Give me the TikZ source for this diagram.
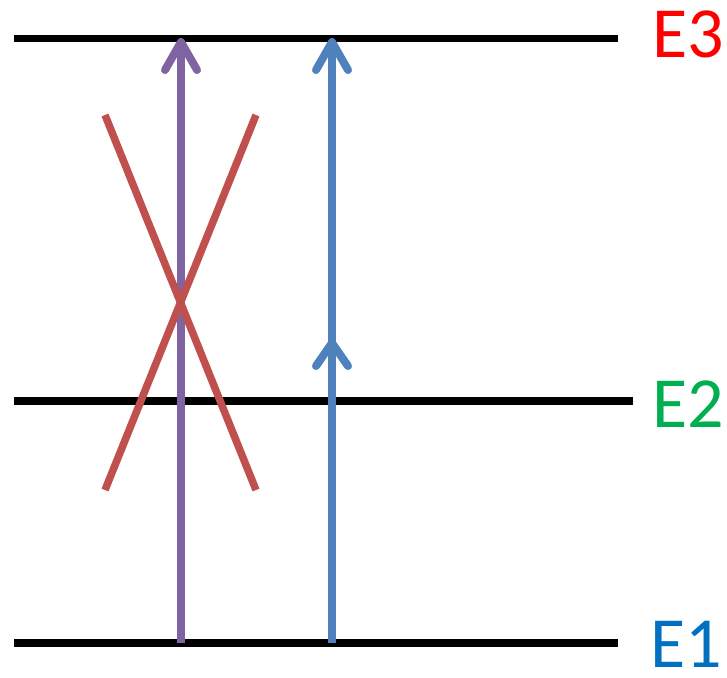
\documentclass[tikz,border=0pt]{standalone}
\usepackage{fontspec}
\setmainfont{Carlito}
\definecolor{lvlblack}{HTML}{000000}
\definecolor{arrpurple}{HTML}{8064A2}
\definecolor{arrblue}{HTML}{4F81BD}
\definecolor{xred}{HTML}{C0504D}
\definecolor{lblred}{HTML}{FF0000}
\definecolor{lblgreen}{HTML}{00B050}
\definecolor{lblblue}{HTML}{0070C0}
\tikzset{
  level/.style={draw=lvlblack, line width=7.5pt},
  shaft/.style={line width=8pt},
  chevron/.style={line width=8pt, line cap=round, line join=round},
  cross/.style={draw=xred, line width=7.5pt},
  lbl/.style={font=\fontsize{72}{72}\selectfont, inner sep=0pt, text depth=0pt, anchor=base west}
}
\begin{document}
\begin{tikzpicture}[x=1pt,y=-1pt]
\useasboundingbox (0,0) rectangle (727,677);
% energy levels
\coordinate (e3l) at (14,38.5); \coordinate (e3r) at (618,38.5);
\coordinate (e2l) at (14,401);  \coordinate (e2r) at (633,401);
\coordinate (e1l) at (14,643);  \coordinate (e1r) at (618,643);
\draw[level] (e3l) -- (e3r);
\draw[level] (e2l) -- (e2r);
\draw[level] (e1l) -- (e1r);
% labels
\node[lbl, text=lblred] (E3) at (652,57) {E3};
\node[lbl, text=lblgreen] (E2) at (652,427) {E2};
\node[lbl, text=lblblue] (E1) at (650,667) {E1};
% purple arrow
\coordinate (pb) at (181,643); \coordinate (pt) at (181,44);
\draw[shaft, draw=arrpurple] (pb) -- (pt);
\draw[chevron, draw=arrpurple] (165,70) -- (181,42) -- (197,70);
% blue arrow
\coordinate (bb) at (332,643); \coordinate (bt) at (332,44);
\draw[shaft, draw=arrblue] (bb) -- (bt);
\draw[chevron, draw=arrblue] (316,70) -- (332,42) -- (348,70);
\draw[chevron, draw=arrblue] (316,366) -- (332,343) -- (348,366);
% red cross
\coordinate (r1a) at (105,115); \coordinate (r1b) at (256,490);
\coordinate (r2a) at (256,115); \coordinate (r2b) at (105,490);
\draw[cross] (r1a) -- (r1b);
\draw[cross] (r2a) -- (r2b);
\end{tikzpicture}
\end{document}
